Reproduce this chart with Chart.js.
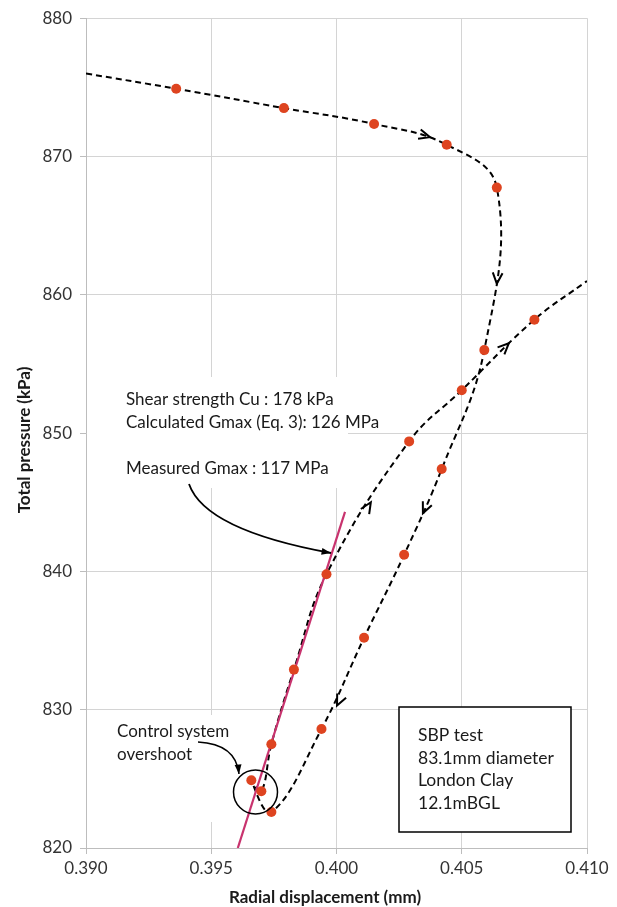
<!DOCTYPE html>
<html>
<head>
<meta charset="utf-8">
<script src="https://cdn.jsdelivr.net/npm/chart.js@4.4.0/dist/chart.umd.min.js"></script>
<style>
  body { margin: 0; background: #fff; }
</style>
</head>
<body>
<canvas id="sbpChart" width="617" height="907"></canvas>
<script>
// readings of the SBP test, in the order they were taken
var readX = [0.3936, 0.3979, 0.4015, 0.4044, 0.4064, 0.4059, 0.4042, 0.4027, 0.4011, 0.3994, 0.3974,
             0.3966, 0.3970, 0.3974, 0.3983, 0.3996, 0.4029, 0.4050, 0.4079];
var readY = [874.9, 873.5, 872.35, 870.85, 867.75, 856.0, 847.4, 841.2, 835.2, 828.6, 822.6,
             824.9, 824.1, 827.5, 832.9, 839.8, 849.4, 853.1, 858.2];

// where the dashed line comes in and goes out of the plot
var leadIn = [0.390, 876.0];
var leadOut = [0.410, 861.0];

// measured Gmax line
var gmaxX = [0.39606, 0.40034];
var gmaxY = [820, 844.3];

// direction arrows on the path (position + index of the reading they point to)
var arrowX = [0.40373, 0.4064, 0.40688, 0.40137, 0.40345, 0.40002];
var arrowY = [871.4, 860.8, 856.5, 845.0, 844.2, 830.3];
var arrowTo = [3, 5, 18, 16, 7, 9];

var xTicks = [0.390, 0.395, 0.400, 0.405, 0.410];
var yTicks = [820, 830, 840, 850, 860, 870, 880];

var FONT = 'Lato, "Open Sans", sans-serif';

function toPoints(xs, ys) {
  var pts = [];
  for (var i = 0; i < xs.length; i++) {
    pts.push({ x: xs[i], y: ys[i] });
  }
  return pts;
}

function drawText(ctx, lines, x, y, step) {
  for (var i = 0; i < lines.length; i++) {
    ctx.fillText(lines[i], x, y + i * step);
  }
}

function curvedArrow(ctx, x0, y0, cx, cy, x1, y1) {
  ctx.beginPath();
  ctx.moveTo(x0, y0);
  ctx.quadraticCurveTo(cx, cy, x1, y1);
  ctx.stroke();
  var a = Math.atan2(y1 - cy, x1 - cx);
  ctx.beginPath();
  ctx.moveTo(x1, y1);
  ctx.lineTo(x1 - 10 * Math.cos(a - 0.35), y1 - 10 * Math.sin(a - 0.35));
  ctx.lineTo(x1 - 10 * Math.cos(a + 0.35), y1 - 10 * Math.sin(a + 0.35));
  ctx.closePath();
  ctx.fill();
}

var notesPlugin = {
  id: 'notes',
  beforeDatasetsDraw: function (chart) {
    // white patches behind the labels, they hide the grid like in the original
    var ctx = chart.ctx;
    ctx.save();
    ctx.fillStyle = '#fff';
    ctx.fillRect(87, 377, 261, 111);
    ctx.fillRect(110, 715, 115, 107);
    ctx.fillRect(399, 707, 172, 125);
    ctx.restore();
  },
  afterDatasetsDraw: function (chart) {
    var ctx = chart.ctx;
    var sx = chart.scales.x;
    var sy = chart.scales.y;

    ctx.save();

    // chevrons along the path
    ctx.strokeStyle = '#000';
    ctx.lineWidth = 2;
    for (var i = 0; i < arrowX.length; i++) {
      var k = arrowTo[i];
      var px = sx.getPixelForValue(arrowX[i]);
      var py = sy.getPixelForValue(arrowY[i]);
      var dx = sx.getPixelForValue(readX[k]) - sx.getPixelForValue(readX[k - 1]);
      var dy = sy.getPixelForValue(readY[k]) - sy.getPixelForValue(readY[k - 1]);
      var a = Math.atan2(dy, dx);
      ctx.beginPath();
      ctx.moveTo(px - 12 * Math.cos(a - 0.42), py - 12 * Math.sin(a - 0.42));
      ctx.lineTo(px, py);
      ctx.lineTo(px - 12 * Math.cos(a + 0.42), py - 12 * Math.sin(a + 0.42));
      ctx.stroke();
    }

    // overshoot circle
    ctx.lineWidth = 1.5;
    ctx.beginPath();
    ctx.arc(255.5, 792, 22, 0, Math.PI * 2);
    ctx.stroke();

    // pointer arrows
    ctx.fillStyle = '#000';
    ctx.lineWidth = 1.8;
    curvedArrow(ctx, 189, 484, 205, 530, 331, 553);
    ctx.lineWidth = 1.5;
    curvedArrow(ctx, 198, 742, 236, 744, 239, 774);

    // texts
    ctx.fillStyle = '#1a1a1a';
    ctx.font = '17px ' + FONT;
    ctx.textAlign = 'left';
    ctx.textBaseline = 'alphabetic';
    drawText(ctx, ['Shear strength Cu : 178 kPa', 'Calculated Gmax (Eq. 3): 126 MPa', '', 'Measured Gmax : 117 MPa'], 126, 405, 23);
    drawText(ctx, ['Control system', 'overshoot'], 117, 737, 23);

    // info box
    ctx.strokeStyle = '#000';
    ctx.lineWidth = 1.5;
    ctx.strokeRect(399, 707, 172, 125);
    ctx.font = '17.5px ' + FONT;
    drawText(ctx, ['SBP test', '83.1mm diameter', 'London Clay', '12.1mBGL'], 418, 741, 22.7);

    // axis titles
    ctx.font = 'bold 17px ' + FONT;
    ctx.textAlign = 'center';
    ctx.fillText('Radial displacement (mm)', 325, 903);
    ctx.translate(30, 440);
    ctx.rotate(-Math.PI / 2);
    ctx.fillText('Total pressure (kPa)', 0, 0);

    ctx.restore();
  }
};

var pathPoints = [{ x: leadIn[0], y: leadIn[1] }]
  .concat(toPoints(readX, readY))
  .concat([{ x: leadOut[0], y: leadOut[1] }]);

var chart = new Chart(document.getElementById('sbpChart'), {
  type: 'scatter',
  data: {
    datasets: [{
      label: 'Readings',
      data: toPoints(readX, readY),
      backgroundColor: '#de4420',
      borderColor: '#de4420',
      pointRadius: 5,
      pointBorderWidth: 0,
      showLine: false
    }, {
      label: 'Measured Gmax',
      data: toPoints(gmaxX, gmaxY),
      borderColor: '#c8336e',
      borderWidth: 2.2,
      pointRadius: 0,
      showLine: true
    }, {
      label: 'Path',
      data: pathPoints,
      borderColor: '#000',
      borderWidth: 2,
      borderDash: [6, 4],
      pointRadius: 0,
      tension: 0.4,
      showLine: true
    }]
  },
  options: {
    responsive: false,
    animation: false,
    layout: { padding: { top: 16, right: 30, left: 0, bottom: 0 } },
    plugins: {
      legend: { display: false },
      tooltip: { enabled: false }
    },
    scales: {
      x: {
        type: 'linear',
        min: 0.390,
        max: 0.410,
        afterFit: function (scale) { scale.height = 59; },
        afterBuildTicks: function (scale) {
          scale.ticks = xTicks.map(function (v) { return { value: v }; });
        },
        ticks: {
          color: '#333',
          font: { family: FONT, size: 17 },
          padding: 4,
          maxRotation: 0,
          callback: function (v) { return v.toFixed(3); }
        },
        grid: { color: '#d4d4d4', tickColor: '#bdbdbd', tickLength: 6 },
        border: { color: '#bdbdbd' }
      },
      y: {
        type: 'linear',
        min: 820,
        max: 880,
        afterFit: function (scale) { scale.width = 86; },
        afterBuildTicks: function (scale) {
          scale.ticks = yTicks.map(function (v) { return { value: v }; });
        },
        ticks: {
          color: '#333',
          font: { family: FONT, size: 17 },
          padding: 8,
          callback: function (v) { return v; }
        },
        grid: { color: '#d4d4d4', tickColor: '#bdbdbd', tickLength: 6 },
        border: { color: '#bdbdbd' }
      }
    }
  },
  plugins: [notesPlugin]
});
</script>
</body>
</html>
